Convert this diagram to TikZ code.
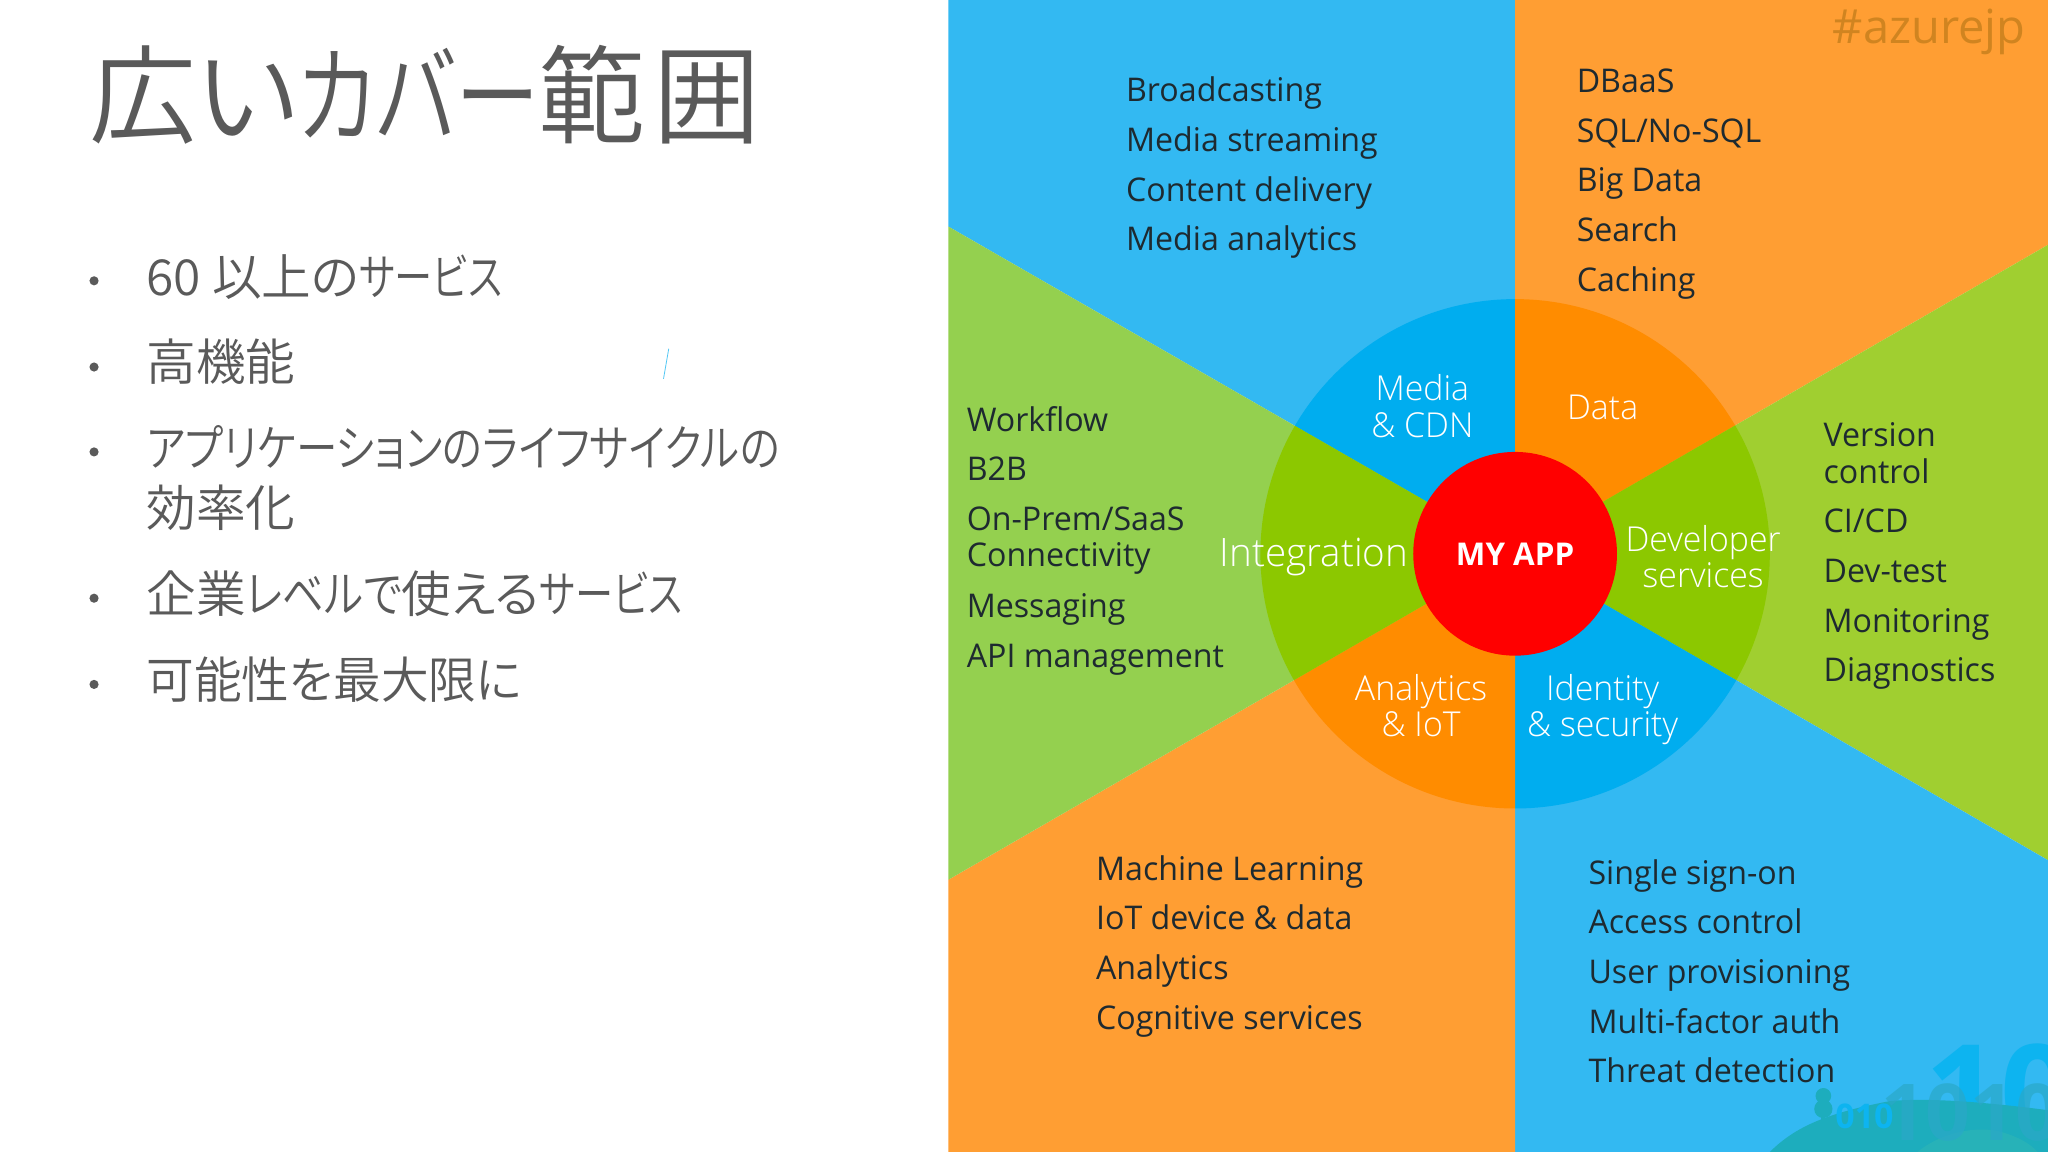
\documentclass[tikz,border=0pt]{standalone}
\usepackage{fontspec}
\setmainfont{Open Sans}
\newfontfamily\bodyfont[FakeStretch=0.985]{Open Sans}
\newfontfamily\hubfont[FakeStretch=0.985]{Open Sans Light}
\newfontfamily\jp[RawFeature=+palt]{Noto Sans CJK JP DemiLight}
\newfontfamily\jpn[RawFeature=+palt,FakeStretch=0.96]{Noto Sans CJK JP DemiLight}
\newfontfamily\kanaA[RawFeature=+palt,FakeStretch=0.77]{Noto Sans CJK JP DemiLight}
\newfontfamily\kanaB[RawFeature=+palt,FakeStretch=0.837]{Noto Sans CJK JP DemiLight}
\newfontfamily\kanaC[RawFeature=+palt,FakeStretch=0.79]{Noto Sans CJK JP DemiLight}
\definecolor{bluea}{HTML}{33B9F2}
\definecolor{orangea}{HTML}{FF9E33}
\definecolor{greenl}{HTML}{94D04F}
\definecolor{greenr}{HTML}{A0CF30}
\definecolor{blueb}{HTML}{00ADEF}
\definecolor{orangeb}{HTML}{FF8C00}
\definecolor{greenb}{HTML}{8CC800}
\definecolor{bodyink}{HTML}{1E2A30}
\definecolor{slideink}{HTML}{5A5A5A}
\definecolor{tagink}{HTML}{D08420}
\definecolor{hillA}{HTML}{1DADBD}
\definecolor{hillB}{HTML}{27B2B8}
\definecolor{digitA}{HTML}{0DB4F0}
\definecolor{digitB}{HTML}{2AA8C8}
\tikzset{
  item/.style={anchor=base west,inner sep=0pt,text=bodyink,font=\bodyfont\fontsize{25}{25}\selectfont},
  hub/.style={anchor=base,inner sep=0pt,text=white,font=\hubfont\fontsize{26.3}{26.3}\selectfont},
  bulletdot/.style={circle,fill=slideink,inner sep=0pt,minimum size=7pt},
  jpline/.style={anchor=base west,inner sep=0pt,text=slideink,font=\jp\fontsize{38}{38}\selectfont},
}
\newcommand{\wedges}[3]{%
  \fill[#1] (1160,423)--(726,173.4)--(726,0)--(1160,0)--cycle;
  \fill[#2] (1160,423)--(1160,0)--(1568,0)--(1568,187.4)--cycle;
  \fill[#3] (1160,423)--(1568,187.4)--(1568,658.6)--cycle;
  \fill[#1] (1160,423)--(1568,658.6)--(1568,882)--(1160,882)--cycle;
  \fill[#2] (1160,423)--(1160,882)--(726,882)--(726,673.6)--cycle;
}
\begin{document}
\begin{tikzpicture}[x=1pt,y=-1pt]
\useasboundingbox (0,0) rectangle (1568,882);
\clip (0,0) rectangle (1568,882);
\fill[white] (0,0) rectangle (1568,882);
% outer wedges
\wedges{bluea}{orangea}{greenr}
\fill[greenl] (1160,423)--(726,673.6)--(726,173.4)--cycle;
% inner wheel
\begin{scope}
\clip (1160,424) circle (195);
\wedges{blueb}{orangeb}{greenb}
\fill[greenb] (1160,423)--(726,673.6)--(726,173.4)--cycle;
\end{scope}
% hills and digits
\node[anchor=base west,inner sep=0pt,text=digitA,font=\fontsize{100}{100}\selectfont\bfseries] (bigdigits) at (1474,872) {100};
\fill[hillA] (1355,882) .. controls (1375,862) and (1400,852) .. (1447,843) .. controls (1480,840) and (1530,845) .. (1568,850) -- (1568,882) -- cycle;
\fill[hillB] (1468,882) .. controls (1485,868) and (1510,862) .. (1530,866) .. controls (1545,870) and (1555,876) .. (1560,882) -- cycle;
\fill[hillA] (1396,839) circle (6) (1396,849) circle (7);
\fill[hillA] (1394.5,850) rectangle (1397.5,864);
\node[anchor=base west,inner sep=0pt,text=digitA,font=\fontsize{26}{26}\selectfont\bfseries] (smalldigits) at (1405,864) {010};
\node[anchor=base west,inner sep=0pt,text=digitB,opacity=.7,font=\fontsize{60}{60}\selectfont\bfseries] (middigits) at (1440,873) {10100};
% red hub
\node[circle,fill=red,minimum size=156pt,inner sep=0pt,text=white,font=\fontsize{24}{24}\selectfont\bfseries] (app) at (1160,424) {MY APP};
% hub labels
\node[hub] (h1) at (1089,307) {Media};
\node[hub] (h2) at (1089,335) {\& CDN};
\node[hub] (h3) at (1227,321) {Data};
\node[hub,font=\hubfont\fontsize{30}{30}\selectfont] (h4) at (1006,434) {Integration};
\node[hub] (h5) at (1304,422) {Developer};
\node[hub] (h6) at (1304,450) {services};
\node[hub] (h7) at (1088,536) {Analytics};
\node[hub] (h8) at (1088,564) {\& IoT};
\node[hub] (h9) at (1227,536) {Identity};
\node[hub] (h10) at (1227,564) {\& security};
% lists
\node[item] (a1) at (862,78) {Broadcasting};
\node[item] (a2) at (862,116) {Media streaming};
\node[item] (a3) at (862,154) {Content delivery};
\node[item] (a4) at (862,192) {Media analytics};
\node[item] (b1) at (1207,71) {DBaaS};
\node[item] (b2) at (1207,109) {SQL/No-SQL};
\node[item] (b3) at (1207,147) {Big Data};
\node[item] (b4) at (1207,185) {Search};
\node[item] (b5) at (1207,223) {Caching};
\node[item] (c1) at (740,330) {Workflow};
\node[item] (c2) at (740,368) {B2B};
\node[item] (c3) at (740,406) {On-Prem/SaaS};
\node[item] (c4) at (740,434) {Connectivity};
\node[item] (c5) at (740,473) {Messaging};
\node[item] (c6) at (740,511) {API management};
\node[item] (d1) at (1396,342) {Version};
\node[item] (d2) at (1396,370) {control};
\node[item] (d3) at (1396,408) {CI/CD};
\node[item] (d4) at (1396,446) {Dev-test};
\node[item] (d5) at (1396,484) {Monitoring};
\node[item] (d6) at (1396,522) {Diagnostics};
\node[item] (e1) at (839,674) {Machine Learning};
\node[item] (e2) at (839,712) {IoT device \& data};
\node[item] (e3) at (839,750) {Analytics};
\node[item] (e4) at (839,788) {Cognitive services};
\node[item] (f1) at (1216,677) {Single sign-on};
\node[item] (f2) at (1216,715) {Access control};
\node[item] (f3) at (1216,753) {User provisioning};
\node[item] (f4) at (1216,791) {Multi-factor auth};
\node[item] (f5) at (1216,829) {Threat detection};
% tag
\node[anchor=base west,inner sep=0pt,text=tagink,font=\fontsize{36}{36}\selectfont] (tag) at (1403,33) {\#azurejp};
% left slide
\node[anchor=base west,inner sep=0pt,text=slideink,font=\jp\fontsize{82}{82}\selectfont] (title) at (68,104) {広い{\kanaC カバー}範\kern6pt 囲};
\node[bulletdot] (p1) at (72,215) {};
\node[bulletdot] (p2) at (72,281) {};
\node[bulletdot] (p3) at (72,346) {};
\node[bulletdot] (p4) at (72,458) {};
\node[bulletdot] (p5) at (72,524) {};
\node[jpline] (t1) at (112,226) {60 以上の{\kanaA サービス}};
\node[jpline] (t2) at (112,291) {高機能};
\node[jpline] (t3) at (112,357) {\kanaB アプリケーションのライフサイクルの};
\node[jpline] (t3b) at (112,403) {効率化};
\node[jpline] (t4) at (112,469) {企業{\kanaB レベルで}使える{\kanaA サービス}};
\node[jpline,font=\jpn\fontsize{38}{38}\selectfont] (t5) at (112,535) {可能性を最大限に};
\draw[cyan!70,line width=.6pt] (512,267)--(508,290);
\end{tikzpicture}
\end{document}
